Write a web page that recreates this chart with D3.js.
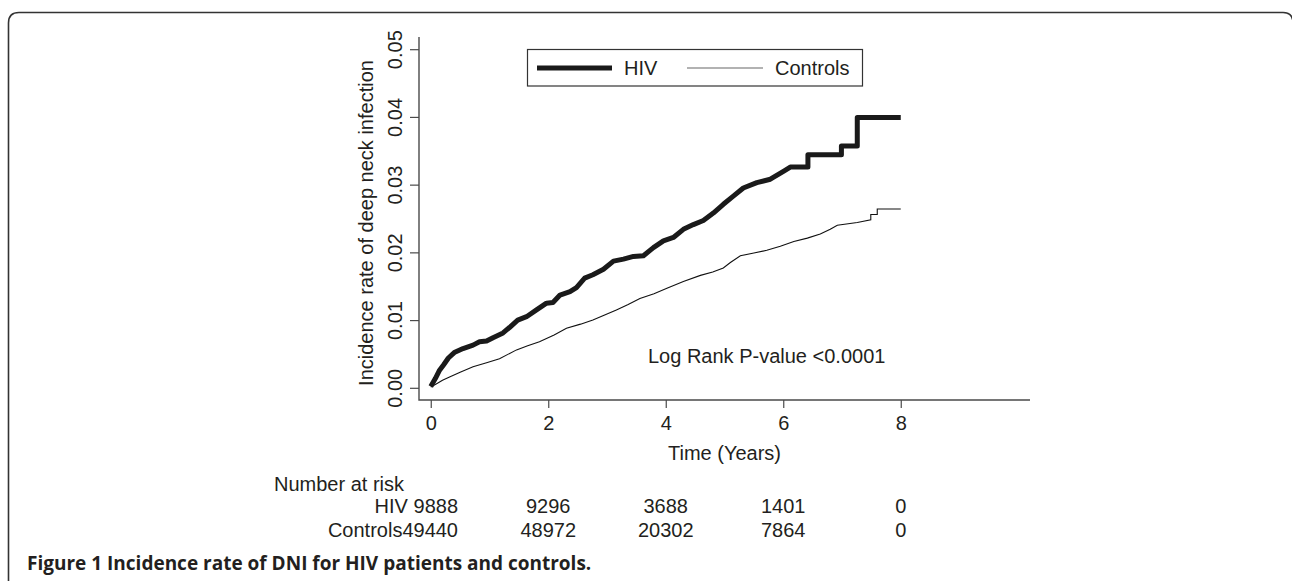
<!DOCTYPE html>
<html>
<head>
<meta charset="utf-8">
<script src="https://cdn.jsdelivr.net/npm/d3@7"></script>
<style>
  body { margin: 0; background: #fff; }
  text { font-family: "Liberation Sans", Arial, sans-serif; fill: #231f20; }
</style>
</head>
<body>
<div id="chart"></div>
<script>
// Data (cumulative incidence; a repeated time = a visible jump):
var hivTime = [0, 0.08, 0.15, 0.22, 0.30, 0.40, 0.55, 0.72, 0.83, 0.95, 1.06, 1.23, 1.34, 1.48, 1.63, 1.80, 1.97, 2.08, 2.20, 2.37, 2.48, 2.62, 2.76, 2.94, 3.11, 3.28, 3.45, 3.62, 3.79, 3.96, 4.13, 4.30, 4.47, 4.64, 4.81, 4.98, 5.15, 5.32, 5.55, 5.78, 6.01, 6.12, 6.42, 6.42, 6.99, 6.99, 7.26, 7.26, 8.0];
var hivRate = [0.0002, 0.0014, 0.0026, 0.0034, 0.0044, 0.0052, 0.0058, 0.0063, 0.0068, 0.0069, 0.0074, 0.0081, 0.0089, 0.0100, 0.0105, 0.0115, 0.0125, 0.0126, 0.0137, 0.0142, 0.0148, 0.0162, 0.0167, 0.0175, 0.0187, 0.0190, 0.0194, 0.0195, 0.0207, 0.0217, 0.0222, 0.0234, 0.0241, 0.0247, 0.0258, 0.0271, 0.0283, 0.0295, 0.0303, 0.0308, 0.0320, 0.0326, 0.0326, 0.0344, 0.0344, 0.0357, 0.0357, 0.0399, 0.0399];

var ctrlTime = [0, 0.10, 0.20, 0.32, 0.50, 0.72, 0.95, 1.17, 1.46, 1.65, 1.85, 2.10, 2.31, 2.55, 2.76, 2.95, 3.16, 3.36, 3.56, 3.80, 4.02, 4.30, 4.59, 4.80, 4.98, 5.10, 5.27, 5.50, 5.72, 5.95, 6.18, 6.41, 6.63, 6.80, 6.92, 7.26, 7.49, 7.49, 7.60, 7.60, 8.0];
var ctrlRate = [0.0001, 0.0006, 0.0011, 0.0016, 0.0023, 0.0031, 0.0037, 0.0043, 0.0056, 0.0062, 0.0068, 0.0078, 0.0088, 0.0094, 0.0100, 0.0107, 0.0115, 0.0123, 0.0132, 0.0139, 0.0147, 0.0157, 0.0166, 0.0171, 0.0177, 0.0185, 0.0195, 0.0199, 0.0203, 0.0209, 0.0216, 0.0221, 0.0227, 0.0234, 0.0240, 0.0244, 0.0248, 0.0256, 0.0256, 0.0264, 0.0264];

var xTicks = [0, 2, 4, 6, 8];
var yTicks = [0.00, 0.01, 0.02, 0.03, 0.04, 0.05];

var seriesNames = ["HIV", "Controls"];
var riskLabels = ["HIV", "Controls"];
var riskTimes = [0, 2, 4, 6, 8];
var riskHIV = [9888, 9296, 3688, 1401, 0];
var riskCtrl = [49440, 48972, 20302, 7864, 0];

var caption = "Figure 1 Incidence rate of DNI for HIV patients and controls.";
var pText = "Log Rank P-value <0.0001";

var W = 1292, H = 581;
var svg = d3.select("#chart").append("svg")
  .attr("width", W).attr("height", H);

// Frame round the figure (top + left, rounded corners)
svg.append("path")
  .attr("d", "M8.5,581 V23 Q8.5,12.5 19,12.5 H1283 Q1293,12.5 1293,23 V581")
  .attr("fill", "none").attr("stroke", "#333").attr("stroke-width", 1.6);

// Plot region
var plotL = 419, plotR = 1030, plotT = 37, plotB = 400;
var x = d3.scaleLinear().domain([-0.2, 10.2]).range([plotL, plotR]);
var y = d3.scaleLinear().domain([-0.0018, 0.0518]).range([plotB, plotT]);

var axisCol = "#4a4a4a";

// L-shaped box
svg.append("path")
  .attr("d", "M" + plotL + "," + plotT + " V" + plotB + " H" + plotR)
  .attr("fill", "none").attr("stroke", axisCol).attr("stroke-width", 1.4);

// x axis
var xAxis = svg.append("g")
  .attr("transform", "translate(0," + plotB + ")")
  .call(d3.axisBottom(x).tickValues(xTicks).tickSize(8).tickPadding(8).tickFormat(d3.format("d")));
xAxis.select(".domain").remove();
xAxis.selectAll("line").attr("stroke", axisCol).attr("stroke-width", 1.2);
xAxis.selectAll("text").attr("font-size", 20).attr("fill", "#231f20")
  .style("font-family", "Liberation Sans, Arial, sans-serif");

// y axis (labels rotated, as in R)
var yAxis = svg.append("g")
  .attr("transform", "translate(" + plotL + ",0)")
  .call(d3.axisLeft(y).tickValues(yTicks).tickSize(9).tickFormat(d3.format(".2f")));
yAxis.select(".domain").remove();
yAxis.selectAll("line").attr("stroke", axisCol).attr("stroke-width", 1.2);
yAxis.selectAll("text")
  .attr("x", null)
  .attr("text-anchor", "middle")
  .attr("font-size", 20).attr("fill", "#231f20")
  .style("font-family", "Liberation Sans, Arial, sans-serif")
  .attr("transform", "translate(-24,0) rotate(-90)")
  .attr("dy", "0.36em");

// axis titles
svg.append("text")
  .attr("x", (plotL + plotR) / 2).attr("y", 460)
  .attr("text-anchor", "middle").attr("font-size", 20)
  .text("Time (Years)");

svg.append("text")
  .attr("transform", "translate(373,223) rotate(-90)")
  .attr("text-anchor", "middle").attr("font-size", 20)
  .text("Incidence rate of deep neck infection");

// Curves
var line = d3.line()
  .x(function(d) { return x(d[0]); })
  .y(function(d) { return y(d[1]); });

var hivData = d3.zip(hivTime, hivRate);
var ctrlData = d3.zip(ctrlTime, ctrlRate);

svg.append("path").datum(ctrlData)
  .attr("d", line).attr("fill", "none")
  .attr("stroke", "#111").attr("stroke-width", 1.1);

svg.append("path").datum(hivData)
  .attr("d", line).attr("fill", "none")
  .attr("stroke", "#1a1a1a").attr("stroke-width", 5)
  .attr("stroke-linejoin", "round");

// Legend
var lg = svg.append("g");
lg.append("rect")
  .attr("x", 527.5).attr("y", 49.5).attr("width", 335).attr("height", 36.5)
  .attr("fill", "#fff").attr("stroke", "#333").attr("stroke-width", 1.2);
lg.append("line").attr("x1", 537).attr("x2", 612).attr("y1", 68).attr("y2", 68)
  .attr("stroke", "#1a1a1a").attr("stroke-width", 5);
lg.append("text").attr("x", 624).attr("y", 75).attr("font-size", 20).text(seriesNames[0]);
lg.append("line").attr("x1", 687).attr("x2", 763).attr("y1", 68).attr("y2", 68)
  .attr("stroke", "#666").attr("stroke-width", 1.1);
lg.append("text").attr("x", 775).attr("y", 75).attr("font-size", 20).text(seriesNames[1]);

// P-value
svg.append("text").attr("x", 648).attr("y", 363).attr("font-size", 20).text(pText);

// Number at risk table
svg.append("text").attr("x", 274).attr("y", 491).attr("font-size", 20).text("Number at risk");

var rows = [riskHIV, riskCtrl];
rows.forEach(function(vals, r) {
  var yy = 513 + r * 24;
  vals.forEach(function(v, i) {
    var t = svg.append("text").attr("y", yy).attr("font-size", 20);
    if (i === 0) {
      t.attr("x", 458).attr("text-anchor", "end")
       .text(riskLabels[r] + (r === 0 ? " " : "") + v);
    } else {
      t.attr("x", x(riskTimes[i])).attr("text-anchor", "middle").text(v);
    }
  });
});

// Caption
svg.append("text")
  .attr("x", 27).attr("y", 570)
  .attr("font-size", 19).attr("font-weight", "bold")
  .style("font-family", "'Open Sans', 'Noto Sans', sans-serif")
  .text(caption);
</script>
</body>
</html>
